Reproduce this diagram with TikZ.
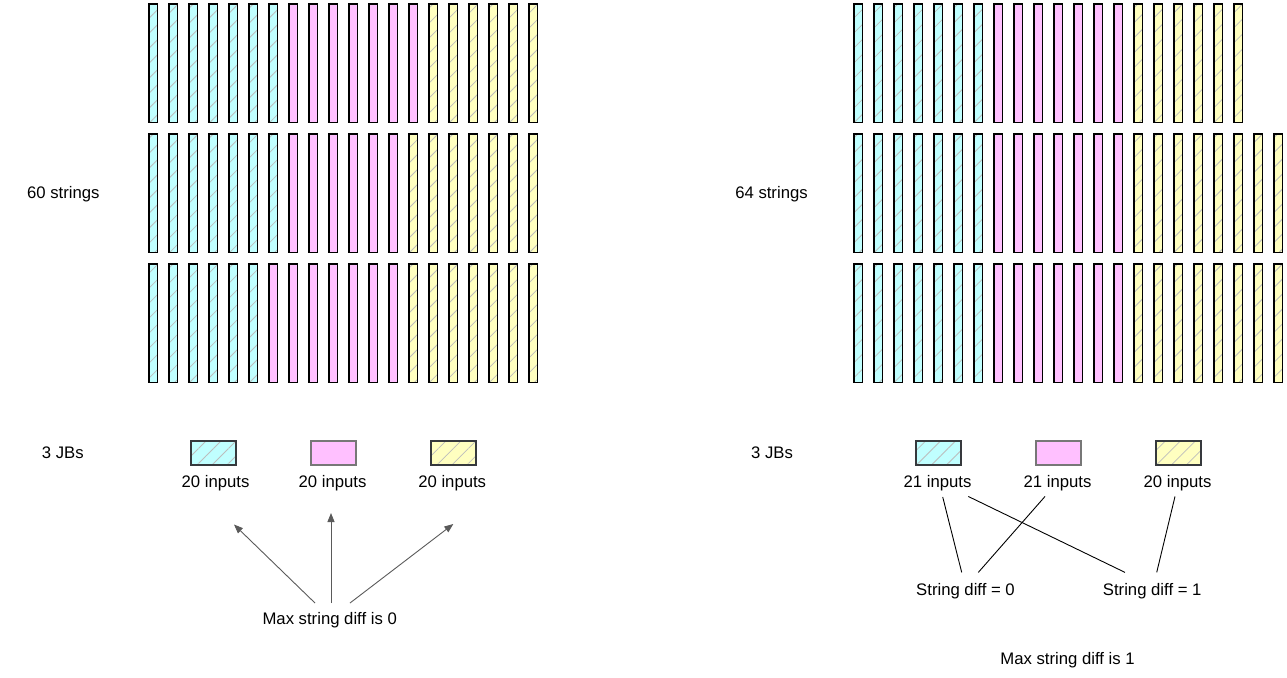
\documentclass[tikz,border=0pt]{standalone}
\usepackage{fontspec}
\setmainfont{Liberation Sans}
\usetikzlibrary{patterns.meta,arrows.meta}
\definecolor{cyanf}{HTML}{C0FFFF}
\definecolor{pinkf}{HTML}{FFC0FF}
\definecolor{yelf}{HTML}{FFFFC0}
\definecolor{hatchc}{HTML}{BDBDBD}
\definecolor{jbline}{HTML}{36393D}
\definecolor{pinkline}{HTML}{777777}
\definecolor{arrc}{HTML}{5A5A5A}
\tikzset{
  hatched/.style={pattern={Lines[angle=45,distance=10.6pt,line width=0.8pt]},pattern color=hatchc},
  barc/.style={draw=black,line width=1.3pt,preaction={fill=cyanf},hatched},
  barp/.style={draw=black,line width=1.3pt,fill=pinkf},
  bary/.style={draw=black,line width=1.3pt,preaction={fill=yelf},hatched},
  txt/.style={font=\fontsize{16.7}{20}\selectfont,inner sep=0pt,anchor=base},
  jbbox/.style={minimum width=45pt,minimum height=24pt,inner sep=0pt,line width=2pt},
  jbc/.style={jbbox,draw=jbline,preaction={fill=cyanf},hatched},
  jbp/.style={jbbox,draw=pinkline,fill=pinkf},
  jby/.style={jbbox,draw=jbline,preaction={fill=yelf},hatched},
  garrow/.style={draw=arrc,line width=0.9pt,-{Triangle[length=9pt,width=7pt]}},
  link/.style={draw=black,line width=0.9pt}
}
\newcommand\barrow[5]{%
  \foreach \i in {1,...,#3} \path[barc] ({#1+20*(\i-1)},#2) rectangle ++(8.7,118.7);
  \foreach \i in {1,...,#4} \path[barp] ({#1+20*(#3+\i-1)},#2) rectangle ++(8.7,118.7);
  \foreach \i in {1,...,#5} \path[bary] ({#1+20*(#3+#4+\i-1)},#2) rectangle ++(8.7,118.7);
}
\begin{document}
\begin{tikzpicture}[x=1pt,y=-1pt]
\useasboundingbox (0,0) rectangle (1287,677);
% left strings
\barrow{148.95}{3.95}{7}{7}{6}
\barrow{148.95}{133.95}{7}{6}{7}
\barrow{148.95}{263.95}{6}{7}{7}
% right strings
\barrow{853.95}{3.95}{7}{7}{6}
\barrow{853.95}{133.95}{7}{7}{8}
\barrow{853.95}{263.95}{7}{7}{8}
% left labels
\node[txt] (s60) at (63.3,198.5) {60 strings};
\node[txt] (jbl) at (62.8,458.5) {3 JBs};
\node[jbc] (bl1) at (213.5,453.3) {};
\node[jbp] (bl2) at (333.5,453.3) {};
\node[jby] (bl3) at (453.3,453.3) {};
\node[txt] (il1) at (215.5,487.3) {20 inputs};
\node[txt] (il2) at (332.5,487.3) {20 inputs};
\node[txt] (il3) at (452.2,487.3) {20 inputs};
\node[txt] (m0) at (329.7,624.3) {Max string diff is 0};
\coordinate (t1) at (234,524.5);
\coordinate (t2) at (331,513);
\coordinate (t3) at (453.3,524);
\path[garrow] ([xshift=-14.7pt,yshift=9pt]m0.north) -- (t1);
\path[garrow] ([xshift=1.3pt,yshift=9pt]m0.north) -- (t2);
\path[garrow] ([xshift=20.3pt,yshift=9pt]m0.north) -- (t3);
% right labels
\node[txt] (s64) at (771.5,198.5) {64 strings};
\node[txt] (jbr) at (772,458.5) {3 JBs};
\node[jbc] (br1) at (938.7,453.3) {};
\node[jbp] (br2) at (1058.7,453.3) {};
\node[jby] (br3) at (1178.5,453.3) {};
\node[txt] (ir1) at (937.5,487.3) {21 inputs};
\node[txt] (ir2) at (1057.5,487.3) {21 inputs};
\node[txt] (ir3) at (1177.5,487.3) {20 inputs};
\node[txt] (d0) at (965.5,595.7) {String diff = 0};
\node[txt] (d1) at (1152.2,595.7) {String diff = 1};
\node[txt] (m1) at (1067.5,664) {Max string diff is 1};
\path[link] ([xshift=5.2pt,yshift=-6pt]ir1.south) -- ([xshift=-3.8pt,yshift=11pt]d0.north);
\path[link] ([xshift=30.8pt,yshift=-5.5pt]ir1.south) -- ([xshift=-27.2pt,yshift=11pt]d1.north);
\path[link] ([xshift=-12.5pt,yshift=-5.5pt]ir2.south) -- ([xshift=12.8pt,yshift=11pt]d0.north);
\path[link] ([xshift=-2.5pt,yshift=-5.5pt]ir3.south) -- ([xshift=4.5pt,yshift=11pt]d1.north);
\end{tikzpicture}
\end{document}
